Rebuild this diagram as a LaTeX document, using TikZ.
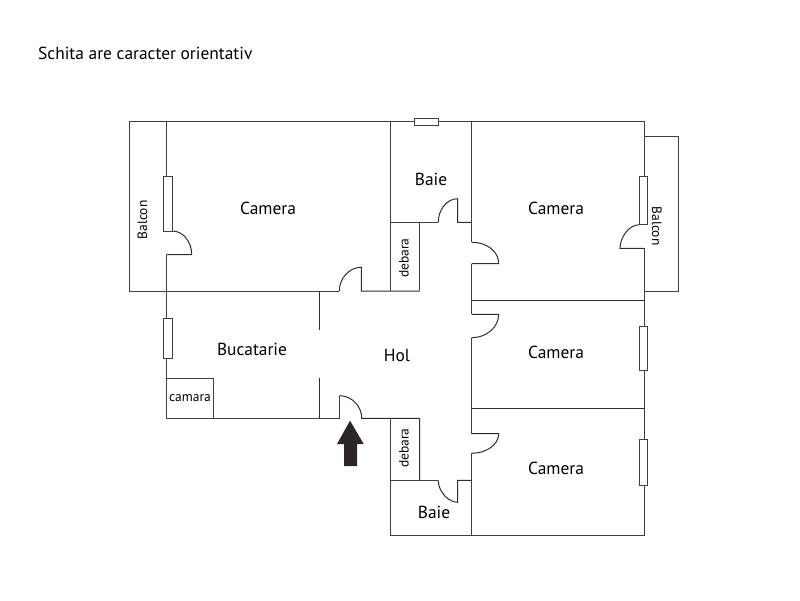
\documentclass[tikz,border=0pt]{standalone}
\usepackage{fontspec}
\setmainfont{PT Sans}
\definecolor{wallc}{HTML}{404040}
\definecolor{linec}{HTML}{2E2E2E}
\definecolor{arrowc}{HTML}{2B2527}
\tikzset{
  wall/.style={draw=wallc,line width=1pt},
  thin wall/.style={draw=linec,line width=1pt},
  window/.style={draw=wallc,line width=1pt,fill=white},
  door/.style={draw=linec,line width=1pt},
  lbl/.style={inner sep=0pt,font=\fontsize{17.4}{20}\selectfont,text=black},
  small lbl/.style={inner sep=0pt,font=\fontsize{13.5}{15}\selectfont,text=black}
}
\begin{document}
\begin{tikzpicture}[x=1pt,y=-1pt]
\useasboundingbox (0,0) rectangle (800,600);
% left balcony and top-left room
\draw[wall] (166.7,231) -- (166.7,121.7) -- (129.5,121.7) -- (129.5,291) -- (339.3,291);
\draw[wall] (166.7,121.7) -- (644.3,121.7) -- (644.3,176.3);
\draw[wall] (166.7,254.7) -- (166.7,418.3) -- (339.3,418.3) -- (339.3,395.7);
\draw[door] (172.3,231) .. controls (183,231) and (191.7,241.7) .. (191.7,254.7) -- (166.7,254.7);
\draw[door] (339.3,291) .. controls (339.3,278.3) and (349.2,267.3) .. (361.3,267.3) -- (361.3,291) -- (419.7,291);
% baie + debara top
\draw[wall] (390.5,121.7) -- (390.5,291);
\draw[wall] (390.5,222.3) -- (438.3,222.3);
\draw[door] (438.3,222.3) .. controls (438.3,209.3) and (447,198.7) .. (457.7,198.7) -- (457.7,222.3) -- (471.7,222.3);
\draw[wall] (419.7,222.3) -- (419.7,291);
% central wall
\draw[wall] (471.7,121.7) -- (471.7,242.3);
\draw[door] (471.7,242.3) .. controls (486.5,242.3) and (498.7,251) .. (498.7,263.7) -- (471.7,263.7);
\draw[wall] (471.7,263.7) -- (471.7,314.3);
\draw[door] (471.7,314.3) -- (498.7,314.3) .. controls (498.7,327.2) and (486.5,337.7) .. (471.7,337.7);
\draw[wall] (471.7,337.7) -- (471.7,433.7);
\draw[door] (471.7,433.7) -- (498.7,433.7) .. controls (498.7,444.5) and (486.5,453.3) .. (471.7,453.3);
\draw[wall] (471.7,453.3) -- (471.7,535);
% right side
\draw[wall] (644.3,224.7) -- (644.3,136.7) -- (678.3,136.7) -- (678.3,291) -- (644.3,291);
\draw[door] (639.3,224.7) .. controls (628.7,224.7) and (620,237.7) .. (620,248.3) -- (644.3,248.3);
\draw[wall] (644.3,248.3) -- (644.3,535) -- (390.5,535) -- (390.5,418.3);
\draw[thin wall] (471.7,300.7) -- (644.3,300.7);
\draw[thin wall] (471.7,408.3) -- (644.3,408.3);
% hall, lower debara + baie
\draw[door] (339.3,395.7) .. controls (351.6,395.7) and (361.7,405.9) .. (361.7,418.3) -- (419.7,418.3) -- (419.7,480.3);
\draw[wall] (390.5,480.3) -- (438.3,480.3);
\draw[door] (438.3,480.3) .. controls (438.3,492.4) and (449,502.3) .. (457.7,502.3) -- (457.7,480.3) -- (471.7,480.3);
% kitchen
\draw[thin wall] (319.3,291) -- (319.3,330);
\draw[thin wall] (319.3,378.3) -- (319.3,418.3);
\draw[wall] (166.7,378) -- (213,378) -- (213,418.3);
% windows
\draw[window] (163.7,176.3) rectangle (172.3,231);
\draw[window] (163.7,318.7) rectangle (172.3,358.3);
\draw[window] (414.3,118.3) rectangle (438.7,125);
\draw[window] (639.3,176.3) rectangle (647.7,224.7);
\draw[window] (639.3,326) rectangle (647.7,370.3);
\draw[window] (639.3,439.3) rectangle (647.7,485.7);
% entrance arrow
\fill[arrowc] (350,420.7) -- (363.7,444) -- (357,444) -- (357,466) -- (344,466) -- (344,444) -- (337,444) -- cycle;
% labels
\node[lbl,anchor=base west] (title) at (38,59) {Schita are caracter orientativ};
\node[lbl] (cam1) at (268,208) {Camera};
\node[lbl] (cam2) at (556,208) {Camera};
\node[lbl] (cam3) at (556,352) {Camera};
\node[lbl] (cam4) at (556,468) {Camera};
\node[lbl] (baie1) at (431,179) {Baie};
\node[lbl] (baie2) at (434,512) {Baie};
\node[lbl] (buc) at (252,349) {Bucatarie};
\node[lbl] (hol) at (397,356) {Hol};
\node[small lbl] (camara) at (190,398.5) {camara};
\node[small lbl,rotate=90] (bal1) at (142.5,220) {Balcon};
\node[small lbl,rotate=-90] (bal2) at (656.7,226) {Balcon};
\node[small lbl,rotate=90] (deb1) at (404,258) {debara};
\node[small lbl,rotate=90] (deb2) at (404,448) {debara};
\end{tikzpicture}
\end{document}
